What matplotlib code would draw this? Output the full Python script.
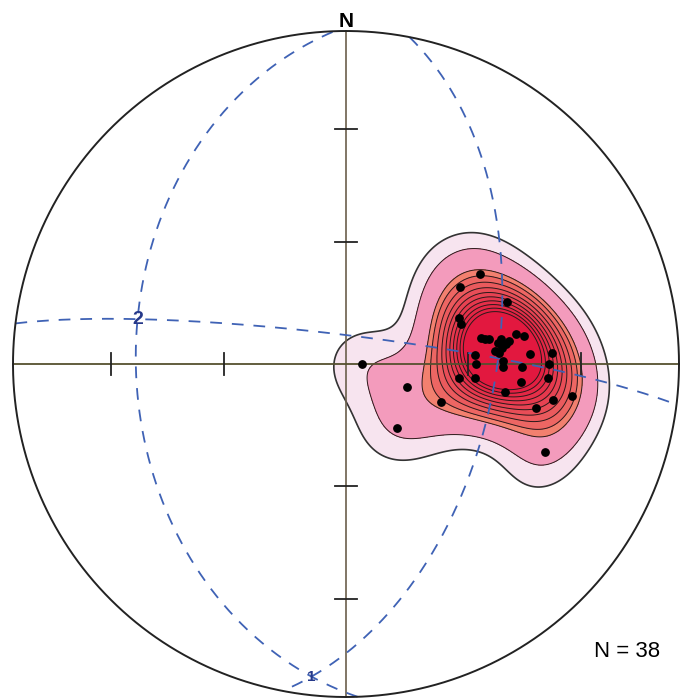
import numpy as np
import matplotlib
matplotlib.use('Agg')
import matplotlib.pyplot as plt

# poles to planes, lower hemisphere (trend, plunge in degrees)
trends = [56, 56, 69, 68, 71, 79, 80, 81, 83, 85, 84, 80, 81, 87, 87, 86, 90, 91, 91,
          90, 97, 96, 96, 94, 100, 100, 112, 98, 103, 111, 90, 141, 114, 80, 82, 86, 82, 89]
plunges = [50, 56, 47, 60, 60, 56, 54, 51, 50, 53, 51, 47, 45, 44, 38, 58, 58, 51, 46,
           39, 62, 58, 46, 39, 50, 37, 65, 32, 41, 74, 86, 70, 35, 55, 52, 52, 49, 51]

# great circles (dip direction, dip) and labelled intersections
plane_dipdir = [7, 268, 101]
plane_dip = [83, 37, 53]
intersections = [('2', 0, 1), ('1', 1, 2)]

k = 60.0  # kernel concentration


def to_vec(trend, plunge):
    t = np.radians(trend)
    p = np.radians(plunge)
    return np.array([np.cos(p) * np.sin(t), np.cos(p) * np.cos(t), np.sin(p)])


def project(trend, plunge):
    r = np.sqrt(2) * np.sin(np.radians(90 - np.asarray(plunge)) / 2)
    t = np.radians(trend)
    return r * np.sin(t), r * np.cos(t)


def vec_to_tp(v):
    v = np.asarray(v, dtype=float)
    if v.ndim == 1:
        if v[2] < 0:
            v = -v
    tr = np.degrees(np.arctan2(v[0], v[1]))
    pl = np.degrees(np.arcsin(np.clip(v[2] / np.linalg.norm(v, axis=0), -1, 1)))
    return tr, pl


def plane_vecs(dd, dip):
    st = np.radians(dd - 90)
    d = np.radians(dd)
    s = np.array([np.sin(st), np.cos(st), 0.0])
    dv = np.array([np.sin(d) * np.cos(np.radians(dip)),
                   np.cos(d) * np.cos(np.radians(dip)),
                   np.sin(np.radians(dip))])
    return s, dv


fig = plt.figure(figsize=(6.82, 6.98), dpi=100)
ax = fig.add_axes([0, 0, 1, 1])
ax.set_xlim(-346 / 333, 336 / 333)
ax.set_ylim(-334 / 333, 364 / 333)
ax.axis('off')

# density grid
g = np.linspace(-1, 1, 501)
X, Y = np.meshgrid(g, g)
R = np.hypot(X, Y)
gp = 90 - 2 * np.degrees(np.arcsin(np.clip(R / np.sqrt(2), 0, 1)))
gt = np.degrees(np.arctan2(X, Y))
G = np.stack([np.cos(np.radians(gp)) * np.sin(np.radians(gt)),
              np.cos(np.radians(gp)) * np.cos(np.radians(gt)),
              np.sin(np.radians(gp))], axis=-1)
dens = np.zeros_like(X)
for t, p in zip(trends, plunges):
    dens += np.exp(k * (np.abs(G @ to_vec(t, p)) - 1))
dens = np.ma.masked_where(R > 1, dens)

top = dens.max()
levels = [0.7, 1.5, 3.3] + list(np.linspace(0.22, 0.62, 9) * top)
colors = ['#f7e4ef', '#f39bbc', '#f2806f', '#ed6663', '#ea5a5d', '#e84d57', '#e74252',
          '#e6384d', '#e52f49', '#e42745', '#e31f42', '#e2183f']
ax.contourf(X, Y, dens, levels=levels + [top * 1.01], colors=colors, zorder=1)
ax.contour(X, Y, dens, levels=levels[1:], colors='#2a1a1a', linewidths=0.7, zorder=2)
ax.contour(X, Y, dens, levels=levels[:1], colors='#333333', linewidths=1.2, zorder=2)

# primitive and axes
a = np.linspace(0, 2 * np.pi, 500)
ax.plot(np.cos(a), np.sin(a), color='#222222', lw=1.4, zorder=4)
ax.plot([0, 0], [-1, 1], color='#6b5f4c', lw=1.2, zorder=3)
ax.plot([-1, 1], [0, 0], color='#55502f', lw=1.3, zorder=3)
for pl in [60, 30]:
    r = project(0, pl)[1]
    tl = 0.033
    for sgn in [1, -1]:
        ax.plot([-tl, tl], [sgn * r, sgn * r], color='#222222', lw=1.3, zorder=3)
        ax.plot([sgn * r, sgn * r], [-tl, tl], color='#222222', lw=1.3, zorder=3)

# great circles
for dd, dip in zip(plane_dipdir, plane_dip):
    s, dv = plane_vecs(dd, dip)
    aa = np.linspace(0, np.pi, 361)
    V = np.outer(s, np.cos(aa)) + np.outer(dv, np.sin(aa))
    tr, pl = vec_to_tp(V)
    x, y = project(tr, pl)
    ax.plot(x, y, color='#3f62b5', lw=1.3, ls=(0, (6.5, 5.5)), zorder=3)

for lab, i, j in intersections:
    s1, d1 = plane_vecs(plane_dipdir[i], plane_dip[i])
    s2, d2 = plane_vecs(plane_dipdir[j], plane_dip[j])
    line = np.cross(np.cross(s1, d1), np.cross(s2, d2))
    tr, pl = vec_to_tp(line)
    x, y = project(tr, pl)
    ax.text(x, y, lab, color='#26398a', fontsize=14 if lab == '2' else 11,
            fontweight='bold', ha='center', va='center', family='Liberation Sans', zorder=5)

# poles
px, py = project(np.array(trends), np.array(plunges))
ax.scatter(px, py, s=28, color='black', zorder=6)

ax.text(0, 1.03, 'N', fontsize=15, fontweight='bold', ha='center', va='center',
        family='Liberation Sans')
ax.text(0.919, 0.066, 'N = %d' % len(trends), fontsize=16, ha='center', va='center',
        family='Liberation Sans', transform=ax.transAxes)

fig.savefig('out.png', dpi=100)
